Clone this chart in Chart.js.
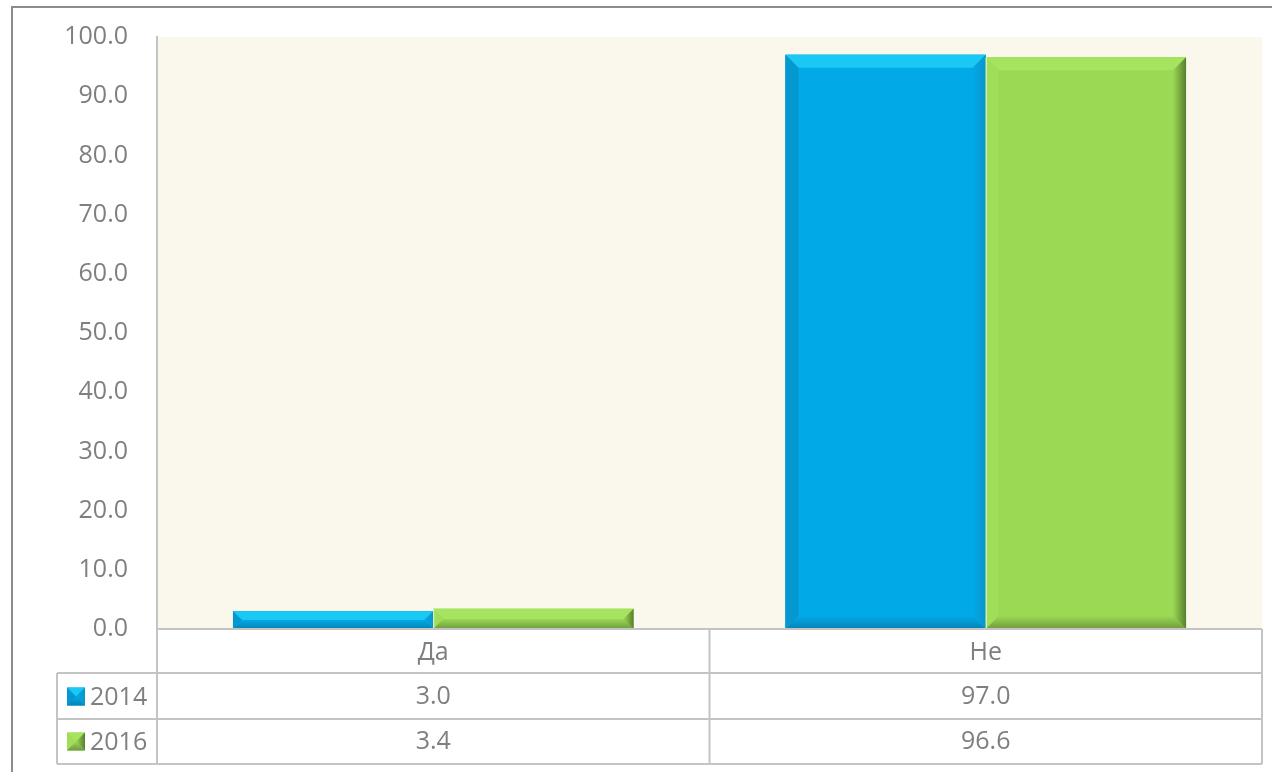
<!DOCTYPE html>
<html>
<head>
<meta charset="utf-8">
<script src="https://cdn.jsdelivr.net/npm/chart.js@4.4.1/dist/chart.umd.min.js"></script>
<style>
  html, body { margin: 0; padding: 0; background: #fff; overflow: hidden; }
  #wrap { position: relative; width: 1272px; height: 772px; }
  #frame {
    position: absolute; left: 11px; top: 6px; width: 1280px; height: 800px;
    border: 2px solid #8c8c8c; box-sizing: border-box; pointer-events: none;
  }
  canvas { position: absolute; left: 0; top: 0; }
</style>
</head>
<body>
<div id="wrap">
  <canvas id="chart" width="1272" height="772"></canvas>
  <div id="frame"></div>
</div>
<script>
// данни
const categories = ["Да", "Не"];
const years = ["2014", "2016"];
const values2014 = [3.0, 97.0];
const values2016 = [3.4, 96.6];
const yTicks = [0, 10, 20, 30, 40, 50, 60, 70, 80, 90, 100];

const FONT = "25px 'Open Sans'";
const TEXT = "#7f7f7f";
const LINE = "#c4c4c4";

// цветове за релефа на колоните
const bevel = {
  "2014": { main: "#02a9e7", top: "#1ac8f4", left: "#0598d0", right: "#0a96cc", bottom: "#0683b3" },
  "2016": { main: "#9bd853", top: "#a6e35e", left: "#a0dd58", right: "#587f2f", bottom: "#6f9b3e" }
};

function poly(ctx, pts, fill) {
  ctx.beginPath();
  ctx.moveTo(pts[0][0], pts[0][1]);
  for (let i = 1; i < pts.length; i++) ctx.lineTo(pts[i][0], pts[i][1]);
  ctx.closePath();
  ctx.fillStyle = fill;
  ctx.fill();
}

function drawBevel(ctx, L, T, R, B, c, size) {
  const b = Math.min(size, (B - T) / 2, (R - L) / 2);
  ctx.fillStyle = c.main;
  ctx.fillRect(L, T, R - L, B - T);
  const gt = ctx.createLinearGradient(0, T, 0, T + b);
  gt.addColorStop(0, c.top);
  gt.addColorStop(1, c.top);
  poly(ctx, [[L, T], [R, T], [R - b, T + b], [L + b, T + b]], gt);
  poly(ctx, [[L, T], [L + b, T + b], [L + b, B - b], [L, B]], c.left);
  const gr = ctx.createLinearGradient(R - b, 0, R, 0);
  gr.addColorStop(0, c.main);
  gr.addColorStop(1, c.right);
  poly(ctx, [[R, T], [R - b, T + b], [R - b, B - b], [R, B]], gr);
  const gb = ctx.createLinearGradient(0, B - b, 0, B);
  gb.addColorStop(0, c.main);
  gb.addColorStop(1, c.bottom);
  poly(ctx, [[L, B], [R, B], [R - b, B - b], [L + b, B - b]], gb);
}

// фон на зоната с графиката
const plotBg = {
  id: "plotBg",
  beforeDraw(chart) {
    const { ctx, chartArea: a } = chart;
    ctx.save();
    ctx.fillStyle = "#faf7ec";
    ctx.fillRect(a.left, a.top, a.right - a.left, a.bottom - a.top);
    ctx.restore();
  }
};

// релеф върху колоните
const bevelBars = {
  id: "bevelBars",
  afterDatasetsDraw(chart) {
    const ctx = chart.ctx;
    ctx.save();
    chart.data.datasets.forEach((ds, i) => {
      const meta = chart.getDatasetMeta(i);
      meta.data.forEach(el => {
        const L = el.x - el.width / 2, R = el.x + el.width / 2;
        const T = Math.min(el.y, el.base), B = Math.max(el.y, el.base);
        drawBevel(ctx, L, T, R, B, bevel[ds.label], 13);
        if (i > 0) {
          // тънка светла линия между съседните колони
          ctx.fillStyle = "rgba(255,255,255,0.75)";
          ctx.fillRect(L, T, 1, B - T);
        }
      });
    });
    ctx.restore();
  }
};

// таблица с данни под оста
const dataTable = {
  id: "dataTable",
  afterDraw(chart) {
    const { ctx, chartArea: a } = chart;
    const x = chart.scales.x;
    const rowH = 45;
    const y0 = a.bottom;
    const legendLeft = 57;
    const step = (a.right - a.left) / categories.length;
    const rows = [values2014, values2016];

    ctx.save();
    ctx.strokeStyle = LINE;
    ctx.lineWidth = 2;
    ctx.beginPath();
    // хоризонтални линии
    ctx.moveTo(a.left, y0); ctx.lineTo(a.right, y0);
    for (let r = 1; r <= 3; r++) {
      const yy = y0 + r * rowH - (r === 1 ? 1 : 0);
      ctx.moveTo(legendLeft, yy); ctx.lineTo(a.right, yy);
    }
    // вертикални линии
    ctx.moveTo(legendLeft, y0 + rowH - 1); ctx.lineTo(legendLeft, y0 + 3 * rowH);
    for (let c = 0; c <= categories.length; c++) {
      const xx = a.left + c * step;
      ctx.moveTo(xx, c === 0 ? a.top : y0); ctx.lineTo(xx, y0 + 3 * rowH);
    }
    ctx.stroke();

    ctx.font = FONT;
    ctx.fillStyle = TEXT;
    ctx.textBaseline = "middle";
    ctx.textAlign = "center";
    categories.forEach((cat, i) => {
      const cx = x.getPixelForValue(i);
      ctx.fillText(cat, cx, y0 + rowH / 2 + 1);
      rows.forEach((vals, r) => {
        ctx.fillStyle = TEXT;
        ctx.fillText(vals[i].toFixed(1), cx, y0 + (r + 1.5) * rowH);
      });
    });

    years.forEach((yr, r) => {
      const cy = y0 + (r + 1.5) * rowH;
      drawBevel(ctx, 67, cy - 9, 85, cy + 9, bevel[yr], 9);
      ctx.fillStyle = TEXT;
      ctx.textAlign = "left";
      ctx.fillText(yr, 90, cy + 1);
    });
    ctx.restore();
  }
};

new Chart(document.getElementById("chart"), {
  type: "bar",
  data: {
    labels: categories,
    datasets: [
      { label: years[0], data: values2014, backgroundColor: bevel["2014"].main, borderWidth: 0 },
      { label: years[1], data: values2016, backgroundColor: bevel["2016"].main, borderWidth: 0 }
    ]
  },
  options: {
    responsive: false,
    animation: false,
    layout: { padding: { left: 0, top: 37, right: 10, bottom: 0 } },
    datasets: { bar: { categoryPercentage: 0.725, barPercentage: 1.0 } },
    plugins: { legend: { display: false }, tooltip: { enabled: false } },
    scales: {
      x: {
        grid: { display: false },
        border: { display: false },
        ticks: { display: false },
        afterFit(scale) { scale.height = 772 - 629; }
      },
      y: {
        min: 0,
        max: 100,
        afterBuildTicks(scale) { scale.ticks = yTicks.map(v => ({ value: v })); },
        grid: { display: false, drawTicks: false },
        border: { display: true, color: LINE, width: 2 },
        ticks: {
          padding: 29,
          color: TEXT,
          font: { family: "'Open Sans'", size: 25 },
          callback: v => v.toFixed(1)
        },
        afterFit(scale) {
          scale.width = 157;
          scale.paddingTop = 0;
          scale.paddingBottom = 0;
        }
      }
    }
  },
  plugins: [plotBg, bevelBars, dataTable]
});
</script>
</body>
</html>
